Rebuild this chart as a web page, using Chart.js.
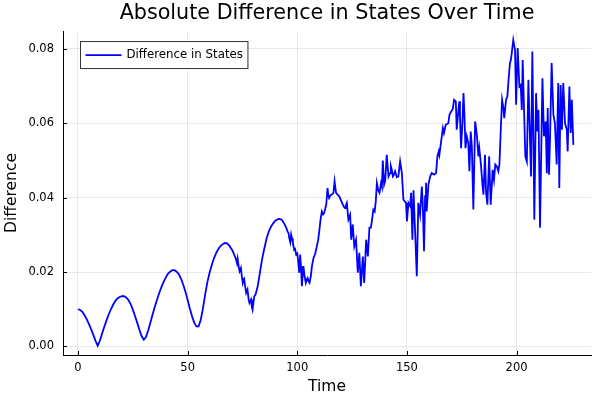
<!DOCTYPE html>
<html>
<head>
<meta charset="utf-8">
<script src="https://cdn.jsdelivr.net/npm/chart.js@4/dist/chart.umd.min.js"></script>
<style>
  html, body { margin: 0; padding: 0; background: #ffffff; }
  #wrap { width: 600px; height: 400px; }
</style>
</head>
<body>
<div id="wrap"><canvas id="c" width="600" height="400"></canvas></div>
<script>
const chartTitle = "Absolute Difference in States Over Time";
const xAxisLabel = "Time";
const yAxisLabel = "Difference";
const seriesLabel = "Difference in States";
const xTicks = [0, 50, 100, 150, 200];
const yTicks = [0.00, 0.02, 0.04, 0.06, 0.08];

const timeValues = [
  0,1,2,3,4,5,6,7,8,9,10,11,12,13,14,15,16,17,18,19,20,21,22,23,24,25,26,27,28,29,30,
  31,32,33,34,35,36,37,38,39,40,41,42,43,44,45,46,47,48,49,50,51,52,53,54,55,56,57,58,59,60,
  61,62,63,64,65,66,67,68,69,70,
  70.6,71.0,71.5,72.0,72.5,72.8,73.3,73.7,74.3,74.8,75.2,75.8,76.3,76.7,77.3,77.8,78.2,78.9,79.3,79.6,80.0,80.4,81.0,
  82,83,84,85,86,87,88,89,90,91,92,93,94,95,
  95.5,96.0,96.4,96.8,97.2,97.6,98.0,98.6,99.0,99.5,100.0,100.5,100.9,101.3,101.7,102.1,102.5,102.8,103.3,103.9,
  104.3,104.7,105.2,105.6,106.2,106.7,107.4,108.2,108.9,109.5,110.1,110.6,111.2,111.8,112.3,112.8,113.2,113.8,114.2,114.5,
  115.0,115.5,116.0,116.5,117.0,117.4,117.7,118.4,119.2,120.0,120.8,121.3,121.8,122.2,122.6,123.3,124.1,124.6,125.3,126.0,
  126.8,127.6,128.3,129.0,129.9,130.5,131.0,131.4,132.2,132.9,133.6,134.2,134.7,135.3,135.8,136.3,136.9,137.5,138.2,138.6,
  139.0,139.6,140.1,140.8,141.6,142.3,142.7,143.1,143.6,144.1,144.6,145.4,146.1,146.9,147.7,148.4,149.0,149.6,150.0,150.7,
  151.5,151.9,152.5,153.0,153.7,154.5,155.2,156.0,156.8,157.2,157.8,158.3,158.7,159.0,159.8,160.6,161.3,162.4,163.3,163.9,
  164.5,164.8,165.9,166.4,166.9,167.7,168.9,169.4,170.2,170.9,171.5,172.3,172.7,173.5,173.9,174.2,174.7,175.3,175.8,176.2,
  176.7,177.3,178.0,178.5,179.1,179.6,180.3,181.1,181.9,182.6,183.0,183.7,184.4,184.9,185.6,186.1,186.7,187.5,188.2,189.1,
  189.7,190.3,191.0,191.7,192.2,192.8,193.4,194.0,194.4,195.2,195.8,196.4,197.0,197.4,197.8,198.5,199.3,199.8,200.5,201.3,
  201.9,202.4,202.8,203.4,204.0,204.7,205.4,206.2,206.6,207.2,207.7,208.1,208.9,209.5,210.0,210.7,211.8,212.5,213.3,213.8,
  214.2,214.8,215.3,216.0,216.8,217.5,218.3,219.0,219.5,220.1,220.7,221.3,222.1,222.9,223.3,224.1,224.7,225.2,225.9
];

const diffValues = [
  0.0100,0.0098,0.0093,0.0084,0.0073,0.0060,0.0046,0.0031,0.0015,0.0002,0.0016,0.0035,0.0053,0.0070,0.0086,0.0100,0.0112,0.0122,0.0129,0.0133,0.0135,0.0135,0.0132,0.0125,0.0114,0.0099,0.0082,0.0064,0.0045,0.0028,0.0018,
  0.0025,0.0043,0.0064,0.0085,0.0106,0.0125,0.0143,0.0159,0.0173,0.0185,0.0195,0.0201,0.0205,0.0205,0.0201,0.0194,0.0182,0.0166,0.0147,0.0125,0.0102,0.0081,0.0064,0.0054,0.0054,0.0072,0.0103,0.0140,0.0173,0.0198,
  0.0219,0.0237,0.0251,0.0262,0.0270,0.0275,0.0278,0.0277,0.0271,0.0262,
  0.0256,0.0250,0.0243,0.0236,0.0224,0.0236,0.0214,0.0202,0.0211,0.0184,0.0171,0.0180,0.0158,0.0144,0.0153,0.0127,0.0117,0.0126,0.0106,0.0099,0.0118,0.0135,0.0140,
  0.0163,0.0200,0.0236,0.0264,0.0290,0.0309,0.0322,0.0331,0.0338,0.0342,0.0343,0.0340,0.0331,0.0319,
  0.0310,0.0305,0.0290,0.0280,0.0301,0.0290,0.0278,0.0260,0.0262,0.0247,0.0250,0.0225,0.0198,0.0247,0.0215,0.0162,0.0195,0.0216,0.0190,0.0171,
  0.0180,0.0184,0.0175,0.0171,0.0190,0.0216,0.0238,0.0250,0.0269,0.0285,0.0314,0.0340,0.0363,0.0355,0.0359,0.0372,0.0381,0.0426,0.0405,0.0399,
  0.0405,0.0408,0.0410,0.0413,0.0444,0.0425,0.0413,0.0408,0.0403,0.0392,0.0381,0.0375,0.0372,0.0380,0.0386,0.0341,0.0354,0.0287,0.0328,0.0269,
  0.0287,0.0198,0.0252,0.0162,0.0242,0.0171,0.0230,0.0287,0.0242,0.0319,0.0320,0.0345,0.0368,0.0363,0.0390,0.0439,0.0420,0.0413,0.0439,0.0430,
  0.0500,0.0435,0.0445,0.0515,0.0457,0.0466,0.0484,0.0475,0.0457,0.0462,0.0471,0.0455,0.0457,0.0497,0.0466,0.0395,0.0390,0.0386,0.0336,0.0386,
  0.0377,0.0413,0.0287,0.0420,0.0314,0.0189,0.0386,0.0354,0.0430,0.0386,0.0256,0.0404,0.0440,0.0363,0.0435,0.0457,0.0466,0.0462,0.0466,0.0511,
  0.0524,0.0515,0.0565,0.0587,0.0574,0.0596,0.0600,0.0623,0.0632,0.0638,0.0663,0.0659,0.0583,0.0636,0.0659,0.0618,0.0533,0.0600,0.0681,0.0627,
  0.0533,0.0565,0.0547,0.0471,0.0578,0.0538,0.0368,0.0605,0.0569,0.0511,0.0533,0.0493,0.0439,0.0408,0.0515,0.0413,0.0381,0.0511,0.0381,0.0475,
  0.0448,0.0489,0.0484,0.0471,0.0490,0.0583,0.0663,0.0641,0.0614,0.0663,0.0672,0.0721,0.0762,0.0770,0.0788,0.0824,0.0797,0.0650,0.0802,0.0699,
  0.0703,0.0636,0.0770,0.0640,0.0511,0.0497,0.0717,0.0542,0.0457,0.0793,0.0556,0.0341,0.0681,0.0578,0.0636,0.0319,0.0721,0.0565,0.0605,0.0466,
  0.0641,0.0462,0.0565,0.0762,0.0623,0.0600,0.0489,0.0708,0.0426,0.0703,0.0583,0.0708,0.0600,0.0583,0.0524,0.0699,0.0574,0.0663,0.0542
];

const points = timeValues.map((t, i) => ({ x: t, y: diffValues[i] }));

const FONT = "'DejaVu Sans', 'Liberation Sans', sans-serif";
Chart.defaults.font.family = FONT;
Chart.defaults.color = '#000000';

const inwardTicks = {
  id: 'inwardTicks',
  afterDatasetsDraw(chart) {
    const { ctx, chartArea, scales } = chart;
    ctx.save();
    ctx.strokeStyle = '#000000';
    ctx.lineWidth = 1;
    ctx.beginPath();
    xTicks.forEach(v => {
      const px = Math.round(scales.x.getPixelForValue(v)) + 0.5;
      ctx.moveTo(px, chartArea.bottom);
      ctx.lineTo(px, chartArea.bottom - 4);
    });
    yTicks.forEach(v => {
      const py = Math.round(scales.y.getPixelForValue(v)) + 0.5;
      ctx.moveTo(chartArea.left, py);
      ctx.lineTo(chartArea.left + 4, py);
    });
    ctx.stroke();
    ctx.restore();
  }
};

const boxLegend = {
  id: 'boxLegend',
  afterDraw(chart) {
    const { ctx, chartArea } = chart;
    const ds = chart.data.datasets[0];
    ctx.save();
    ctx.font = "11.8px " + FONT;
    const tw = ctx.measureText(ds.label).width;
    const x0 = chartArea.left + 17.5;
    const y0 = chartArea.top + 10.5;
    const w = 46 + tw + 5;
    const h = 27;
    ctx.fillStyle = '#ffffff';
    ctx.fillRect(x0, y0, w, h);
    ctx.strokeStyle = '#333333';
    ctx.lineWidth = 1;
    ctx.strokeRect(x0, y0, w, h);
    const cy = y0 + h / 2;
    ctx.strokeStyle = ds.borderColor;
    ctx.lineWidth = 1.8;
    ctx.beginPath();
    ctx.moveTo(x0 + 5, cy);
    ctx.lineTo(x0 + 41, cy);
    ctx.stroke();
    ctx.fillStyle = '#000000';
    ctx.textBaseline = 'middle';
    ctx.textAlign = 'left';
    ctx.fillText(ds.label, x0 + 46, cy);
    ctx.restore();
  }
};

new Chart(document.getElementById('c'), {
  type: 'line',
  data: {
    datasets: [{
      label: seriesLabel,
      data: points,
      borderColor: '#0000ff',
      backgroundColor: '#0000ff',
      borderWidth: 1.8,
      pointRadius: 0,
      tension: 0,
      fill: false
    }]
  },
  options: {
    responsive: false,
    animation: false,
    devicePixelRatio: 1,
    layout: { padding: { left: 0, right: 9, top: 0, bottom: 0 } },
    plugins: {
      legend: { display: false },
      tooltip: { enabled: false },
      title: {
        display: true,
        fullSize: false,
        text: chartTitle,
        color: '#000000',
        font: { size: 20.7, weight: 'normal', family: FONT, lineHeight: 1.2 },
        padding: { top: 1, bottom: 5.2 }
      }
    },
    scales: {
      x: {
        type: 'linear',
        min: -6.84,
        max: 233.95,
        afterBuildTicks: s => { s.ticks = xTicks.map(v => ({ value: v })); },
        afterFit: s => { s.height = 45; },
        ticks: {
          color: '#000000',
          font: { size: 11.5, family: FONT },
          padding: 6,
          maxRotation: 0,
          callback: v => String(v)
        },
        grid: { color: 'rgba(0,0,0,0.085)', lineWidth: 1, drawTicks: false },
        border: { display: true, color: '#000000', width: 1 },
        title: {
          display: true,
          text: xAxisLabel,
          color: '#000000',
          font: { size: 15.5, family: FONT, lineHeight: 1.2 },
          padding: { top: 0, bottom: 4 }
        }
      },
      y: {
        type: 'linear',
        min: -0.0023,
        max: 0.0848,
        afterBuildTicks: s => { s.ticks = yTicks.map(v => ({ value: v })); },
        afterFit: s => { s.width = 63; },
        ticks: {
          color: '#000000',
          font: { size: 11.5, family: FONT },
          padding: 9,
          callback: v => Number(v).toFixed(2)
        },
        grid: { color: 'rgba(0,0,0,0.085)', lineWidth: 1, drawTicks: false },
        border: { display: true, color: '#000000', width: 1 },
        title: {
          display: true,
          text: yAxisLabel,
          color: '#000000',
          font: { size: 15.5, family: FONT, lineHeight: 1.2 },
          padding: { top: 3, bottom: 0 }
        }
      }
    }
  },
  plugins: [inwardTicks, boxLegend]
});
</script>
</body>
</html>
